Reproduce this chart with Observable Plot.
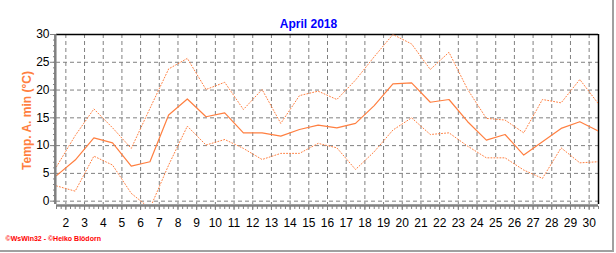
<!DOCTYPE html>
<html><head><meta charset="utf-8">
<script src="https://cdn.jsdelivr.net/npm/d3@7"></script>
<script src="https://cdn.jsdelivr.net/npm/@observablehq/plot@0.6"></script>
<style>
html,body{margin:0;padding:0;background:#fff;}
#wrap{position:relative;width:616px;height:253px;overflow:hidden;}
#wrap svg{position:absolute;left:0;top:0;}
.edgeR{position:absolute;left:612px;top:0;width:2px;height:252px;background:#a0a0a0;}
.edgeB{position:absolute;left:0;top:250px;width:614px;height:2px;background:#a0a0a0;}
</style></head>
<body><div id="wrap"><div class="edgeR"></div><div class="edgeB"></div></div>
<script>
const days = [1,2,3,4,5,6,7,8,9,10,11,12,13,14,15,16,17,18,19,20,21,22,23,24,25,26,27,28,29,30];
const tMax = [6.2,11.8,16.6,13.2,9.5,16.7,23.8,25.7,20.1,21.4,16.5,20.1,14.0,19.0,19.8,18.3,21.8,26.0,30.0,28.3,23.7,26.8,20.1,14.9,14.6,12.3,18.3,17.7,21.9,17.5];
const tMean = [4.6,7.4,11.4,10.5,6.3,7.1,15.5,18.4,15.2,15.9,12.3,12.3,11.7,12.9,13.7,13.2,14.0,17.2,21.1,21.3,17.8,18.3,14.3,11.0,12.0,8.3,10.7,13.1,14.3,12.6];
const tMin = [2.75,1.8,8.1,6.5,1.4,-1.3,6.5,13.5,10.1,11.1,9.5,7.5,8.6,8.6,10.4,9.6,5.7,8.9,12.8,15.0,12.0,12.3,9.9,7.8,7.8,5.6,4.1,9.6,6.9,7.1];
const dayTicks = [2,3,4,5,6,7,8,9,10,11,12,13,14,15,16,17,18,19,20,21,22,23,24,25,26,27,28,29,30];
const yTicks = [0,5,10,15,20,25,30];
const yMinor = [0,1,2,3,4,5,6,7,8,9,10,11,12,13,14,15,16,17,18,19,20,21,22,23,24,25,26,27,28,29,30];
const title = "April 2018";
const yLabel = "Temp. A. min (°C)";
const credit = "©WsWin32 - ©Heiko Blödorn";

const rows = days.map((d, i) => ({t: d + 0.5, max: tMax[i], mean: tMean[i], min: tMin[i]}));
const xMinor = d3.range(1.5, 30.51, 0.25);
const orange = "#ff7f40";
const gray = "#808080";

const chart = Plot.plot({
  width: 616, height: 253,
  marginLeft: 56, marginRight: 18, marginTop: 34, marginBottom: 49,
  style: {fontFamily: "Arial, 'Liberation Sans', sans-serif", fontSize: "12px", background: "transparent", color: "#000"},
  x: {domain: [1.5, 30.5], axis: null},
  y: {domain: [-0.6, 30], axis: null},
  marks: [
    Plot.gridX(dayTicks, {stroke: gray, strokeOpacity: 1, strokeDasharray: "4,3"}),
    Plot.gridY(yTicks.filter(v => v < 30), {stroke: gray, strokeOpacity: 1, strokeDasharray: "4,3"}),
    Plot.ruleY([30], {stroke: "#000", strokeWidth: 1.5}),
    Plot.ruleX([30.5], {stroke: "#000", strokeWidth: 1.5}),
    Plot.lineY(rows, {x: "t", y: "max", stroke: orange, strokeWidth: 1, strokeDasharray: "1,2", clip: true}),
    Plot.lineY(rows, {x: "t", y: "min", stroke: orange, strokeWidth: 1, strokeDasharray: "1,2", clip: true}),
    Plot.lineY(rows, {x: "t", y: "mean", stroke: orange, strokeWidth: 1.2, clip: true}),
    Plot.ruleX([1.5], {stroke: gray, strokeWidth: 2.5, dx: -1.2}),
    Plot.ruleY([-0.6], {stroke: gray, strokeWidth: 2.5, dy: 1}),
    Plot.axisY(yMinor, {anchor: "left", tickSize: 3, tickFormat: () => "", stroke: gray, label: null}),
    Plot.axisY(yTicks, {anchor: "left", tickSize: 6, tickPadding: 1, stroke: gray, fill: "#000", label: null, fontSize: 12}),
    Plot.axisX(xMinor, {anchor: "bottom", tickSize: 3, tickFormat: () => "", stroke: gray, label: null, dy: 2}),
    Plot.axisX(dayTicks, {anchor: "bottom", tickSize: 4, tickPadding: 8, stroke: gray, fill: "#000", label: null, fontSize: 12, dy: 2}),
    Plot.text([title], {frameAnchor: "top", dx: -19, dy: -15, fill: "#0000ff", fontWeight: "bold", fontSize: 12}),
    Plot.text([yLabel], {frameAnchor: "left", textAnchor: "middle", dx: -29, dy: 1, rotate: -90, fill: orange, fontWeight: "bold", fontSize: 12}),
    Plot.text([credit], {frameAnchor: "bottom-left", dx: -51, dy: 36, textAnchor: "start", fill: "#ff0000", fontWeight: "bold", fontSize: 7})
  ]
});
document.getElementById("wrap").prepend(chart);
</script>
</body></html>
